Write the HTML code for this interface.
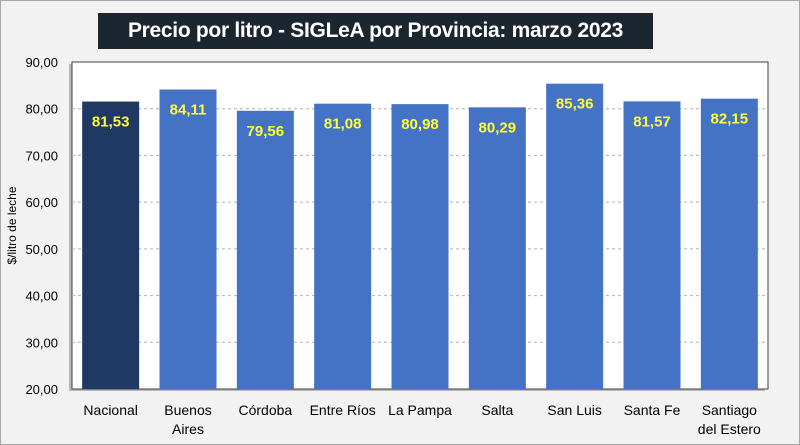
<!DOCTYPE html>
<html><head><meta charset="utf-8"><style>
body{margin:0;width:800px;height:445px;overflow:hidden;background:#f2f2f2;font-family:"Liberation Sans",sans-serif}
#wrap{position:absolute;left:0;top:0;width:798px;height:443px;border:1px solid #a6a6a6;background:#f2f2f2}
#title{position:absolute;left:98px;top:13px;width:555px;height:36px;background:#1c2631;color:#fff;font:bold 21px "Liberation Sans",sans-serif;letter-spacing:-0.3px;line-height:36px;text-align:center;white-space:nowrap}
</style></head><body>
<div id="wrap"></div>
<div id="title">Precio por litro - SIGLeA por Provincia: marzo 2023</div>
<svg id="chart" width="800" height="445" style="position:absolute;left:0;top:0"></svg>
<script>
const categories=[["Nacional"],["Buenos","Aires"],["Córdoba"],["Entre Ríos"],["La Pampa"],["Salta"],["San Luis"],["Santa Fe"],["Santiago","del Estero"]];
const values=[81.53,84.11,79.56,81.08,80.98,80.29,85.36,81.57,82.15];
const labels=["81,53","84,11","79,56","81,08","80,98","80,29","85,36","81,57","82,15"];
const ticks=[20,30,40,50,60,70,80,90];
const tickLabels=["20,00","30,00","40,00","50,00","60,00","70,00","80,00","90,00"];
const NS="http://www.w3.org/2000/svg",svg=document.getElementById('chart');
const L=72,R=768,T=62,B=389,yMin=20,yMax=90;
const y=v=>B-(v-yMin)/(yMax-yMin)*(B-T);
const bw=(R-L)/categories.length;
const x=i=>L+bw*i+bw/2;
function mk(t,a,p){const e=document.createElementNS(NS,t);for(const k in a)e.setAttribute(k,a[k]);(p||svg).appendChild(e);return e;}
const sh=mk('rect',{x:L-3,y:T+2,width:R-L,height:B-T,fill:'#7f7f7f',opacity:0.5});


const pa=mk('rect',{x:L,y:T,width:R-L,height:B-T,fill:'#fff',stroke:'#404040','stroke-width':1});


ticks.forEach((t,i)=>{
  if(t>yMin&&t<yMax){const g=mk('line',{x1:L,x2:R,y1:y(t),y2:y(t),stroke:'#b0b0b0','stroke-dasharray':'3,3'});
  
  }
  const tl=mk('text',{x:L-14,y:y(t)+5,'text-anchor':'end','font-size':13,fill:'#000'});
  
  
  tl.textContent=tickLabels[i];
});
values.forEach((v,i)=>{
  const b=mk('rect',{x:x(i)-28.5,y:y(v),width:57,height:B-y(v),fill:i===0?'#1f3864':'#4472c4'});
  
  
  const t=mk('text',{x:x(i),y:y(v)+25,'text-anchor':'middle','font-size':15,'font-weight':'bold',fill:'#ffff33'});
  
  
  t.textContent=labels[i];
  categories[i].forEach((ln,j)=>{
    const c=mk('text',{x:x(i),y:B+26+j*19,'text-anchor':'middle','font-size':14,fill:'#000'});
    
    
    c.textContent=ln;
  });
});
const yt=mk('text',{x:0,y:0,transform:'translate(16,'+((T+B)/2)+') rotate(-90)','text-anchor':'middle','font-size':12,fill:'#000'});


yt.textContent='$/litro de leche';
</script>
</body></html>
